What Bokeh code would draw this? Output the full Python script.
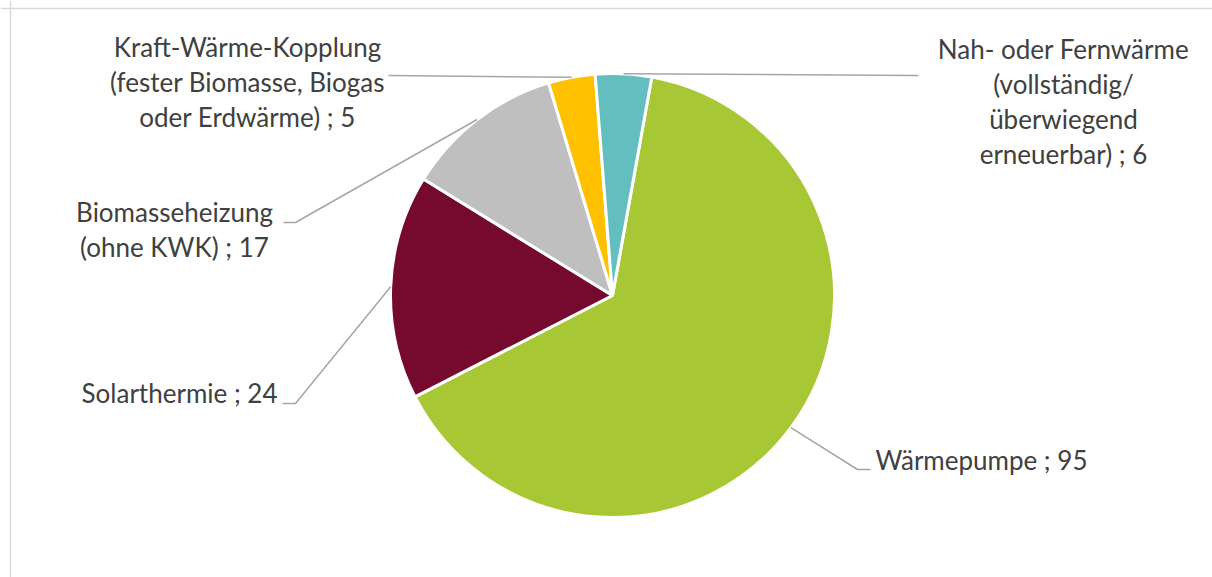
import math
from bokeh.plotting import figure
from bokeh.models import Range1d, Span
from bokeh.core.properties import value
from bokeh.embed import file_html
from bokeh.resources import INLINE

# ---- data ----
categories = ["Wärmepumpe", "Solarthermie", "Biomasseheizung\n(ohne KWK)",
              "Kraft-Wärme-Kopplung\n(fester Biomasse, Biogas\noder Erdwärme)",
              "Nah- oder Fernwärme\n(vollständig/\nüberwiegend\nerneuerbar)"]
values = [95, 24, 17, 5, 6]
colors = ["#A8C735", "#750A2E", "#BFBFBF", "#FFC000", "#63BFBF"]

# ---- layout (1 data unit = 1 px) ----
W, H = 1212, 577
def X(px): return px
def Y(py): return H - py

cx, cy, R = X(612), Y(295), 222
first_angle = 10.2  # degrees clockwise from 12 o'clock

FONT = "Lato"
FS = "26px"
TXT = "#404040"
LEAD = "#A6A6A6"

# label layouts: (elbow, end of line, text anchor x, first line center y, align)
layouts = [
    ((857, 469), (870, 469), 875, 459, "left"),
    ((295, 403), (282, 403), 277, 392, "right"),
    ((295, 222), (283, 222), 174, 211, "center"),
    ((390, 75), (388, 75), 247, 46, "center"),
    ((916, 75), (918, 75), 1063, 48, "center"),
]
LINE_H = 35

p = figure(width=W, height=H, output_backend="svg", toolbar_location=None,
           x_range=Range1d(0, W), y_range=Range1d(0, H), min_border=0,
           outline_line_color=None)
p.axis.visible = False
p.grid.visible = False

p.add_layout(Span(location=Y(8), dimension="width", line_color="#D9D9D9", line_width=1.5))
p.add_layout(Span(location=X(10), dimension="height", line_color="#D9D9D9", line_width=1.5))

total = float(sum(values))
theta = first_angle
for cat, v, col, lay in zip(categories, values, colors, layouts):
    sweep = v / total * 360.0
    start = math.radians(90 - theta)
    end = math.radians(90 - (theta + sweep))
    p.wedge(x=[cx], y=[cy], radius=R, start_angle=start, end_angle=end,
            direction="clock", fill_color=col, line_color="white", line_width=3)
    mid = math.radians(theta + sweep / 2)
    sx, sy = cx + R * math.sin(mid), cy + R * math.cos(mid)
    (ex, ey), (tx, ty), ax, ly, align = lay
    p.line(x=[sx, X(ex), X(tx)], y=[sy, Y(ey), Y(ty)], line_color=LEAD, line_width=1.5)
    lines = (cat + " ; " + str(v)).split("\n")
    for i, t in enumerate(lines):
        p.text(x=[X(ax)], y=[Y(ly + i * LINE_H)], text=[t], text_align=align,
               text_baseline="middle", text_font=value(FONT), text_font_size=FS,
               text_color=TXT)
    theta += sweep

open("out.html", "w").write(file_html(p, INLINE))
